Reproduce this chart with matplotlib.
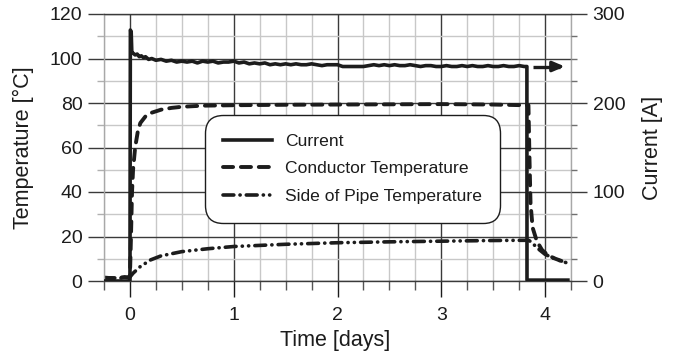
import matplotlib
matplotlib.use("Agg")
import matplotlib.pyplot as plt
from matplotlib.ticker import MultipleLocator
import numpy as np

plt.rcParams['font.family'] = ['Liberation Sans', 'DejaVu Sans']

# ---------------- data ----------------
# Current [A] (right axis)
cur_t = [-0.25, -0.005, 0.0, 0.004, 0.012, 0.018, 0.03, 0.05, 0.07, 0.09, 0.11, 0.13, 0.15,
         0.18, 0.21, 0.25, 0.3, 0.35, 0.4, 0.45, 0.5, 0.55, 0.6, 0.65, 0.7, 0.75, 0.8,
         0.85, 0.9, 0.95, 1.0, 1.05, 1.1, 1.15, 1.2, 1.25, 1.3, 1.35, 1.4, 1.45, 1.5,
         1.55, 1.6, 1.65, 1.7, 1.75, 1.8, 1.85, 1.9, 1.95, 2.0, 2.05, 2.1, 2.15, 2.2,
         2.25, 2.3, 2.35, 2.4, 2.45, 2.5, 2.55, 2.6, 2.65, 2.7, 2.75, 2.8, 2.85, 2.9,
         2.95, 3.0, 3.05, 3.1, 3.15, 3.2, 3.25, 3.3, 3.35, 3.4, 3.45, 3.5, 3.55, 3.6,
         3.65, 3.7, 3.75, 3.8, 3.825, 3.826, 4.22]
cur_a = [0, 0, 0, 282, 280, 257, 256, 254, 255, 252, 253, 251, 252,
         249, 250, 248, 249, 247, 248, 246, 247, 246, 247, 245, 247, 246, 247,
         245, 246, 246, 247, 245, 246, 244, 245, 244, 245, 243, 244, 243, 244,
         243, 244, 243, 243, 244, 243, 242, 243, 243, 243, 241, 241, 241, 241,
         241, 242, 243, 242, 243, 242, 243, 242, 242, 243, 242, 241, 242, 242,
         241, 241, 242, 241, 241, 242, 241, 242, 241, 241, 242, 241, 241, 242,
         241, 241, 242, 241, 241, 1, 1]

# Conductor temperature [°C]
cond_t = [-0.25, -0.15, -0.05, -0.01, 0.0, 0.01, 0.02, 0.03, 0.05, 0.075, 0.1, 0.15, 0.2,
          0.3, 0.4, 0.5, 0.7, 1.0, 1.5, 2.0, 2.5, 3.0, 3.5, 3.8, 3.84, 3.85, 3.86,
          3.88, 3.92, 3.97, 4.03, 4.1, 4.17, 4.22]
cond_c = [1.5, 1.2, 1.8, 1.5, 2.0, 20, 40, 50, 60, 67, 71, 74, 75.5,
          77, 77.8, 78.3, 78.8, 79.0, 79.2, 79.3, 79.4, 79.5, 79.3, 79.0, 79.0, 55, 35,
          24, 18, 14, 11.5, 10, 8.8, 8.0]

# Side of pipe temperature [°C]
pipe_t = [-0.25, -0.1, 0.0, 0.03, 0.1, 0.2, 0.3, 0.5, 0.75, 1.0, 1.5, 2.0, 2.5, 3.0,
          3.5, 3.84, 3.87, 3.92, 4.0, 4.1, 4.2]
pipe_c = [1.5, 1.3, 1.8, 3.5, 6.5, 9.5, 11.3, 13.2, 14.5, 15.5, 16.5, 17.2, 17.6, 17.9,
          18.2, 18.3, 17.5, 15.0, 12.0, 9.8, 8.3]

# arrow pointing to the current axis
arrow_t = [3.88, 4.19]
arrow_a = [241, 241]

labels = ["Current", "Conductor Temperature", "Side of Pipe Temperature"]
x_ticks = [0, 1, 2, 3, 4]
t_ticks = [0, 20, 40, 60, 80, 100, 120]
a_ticks = [0, 100, 200, 300]

# ---------------- figure ----------------
W, H = 676, 356
fig = plt.figure(figsize=(W / 100, H / 100), dpi=100)
L, R, T, B = 104, 571, 14, 281
ax = fig.add_axes([L / W, 1 - B / H, (R - L) / W, (B - T) / H])
ax2 = ax.twinx()

ink = '#1c1c1c'
major_c = '#3a3a3a'
minor_c = '#c8c8c8'

ax.set_xlim(-0.25, 4.25)
ax.set_ylim(0, 120)
ax2.set_ylim(0, 300)

ax.set_xticks(x_ticks)
ax.xaxis.set_minor_locator(MultipleLocator(0.25))
ax.set_yticks(t_ticks)
ax.yaxis.set_minor_locator(MultipleLocator(10))
ax2.set_yticks(a_ticks)
ax2.yaxis.set_minor_locator(MultipleLocator(25))

ax.set_axisbelow(True)
ax.grid(which='major', color=major_c, lw=1.0)
ax.grid(which='minor', color=minor_c, lw=1.0)

for s in ['top', 'bottom']:
    ax.spines[s].set_color(major_c)
    ax.spines[s].set_linewidth(1.0)
for s in ['left', 'right']:
    ax.spines[s].set_color('#a8a8a8')
    ax.spines[s].set_linewidth(1.0)
for s in ax2.spines.values():
    s.set_visible(False)

tick_fs = 14
ax.tick_params(axis='x', which='major', length=11.5, width=1, color=ink,
               labelsize=tick_fs, pad=7, labelcolor=ink)
ax.tick_params(axis='x', which='minor', length=6.5, width=1, color='#555555')
ax.tick_params(axis='y', which='major', length=11.5, width=1, color=major_c,
               labelsize=tick_fs, pad=4, labelcolor=ink)
ax.tick_params(axis='y', which='minor', length=5, width=1, color='#b0b0b0')
ax2.tick_params(axis='y', which='major', length=11.5, width=1, color=major_c,
                labelsize=tick_fs, pad=4, labelcolor=ink)
ax2.tick_params(axis='y', which='minor', length=4.5, width=1, color='#707070')

lab_fs = 15.5
ax.set_xlabel("Time [days]", fontsize=lab_fs, color=ink)
ax.xaxis.set_label_coords((335 - L) / (R - L), (B - 330) / (B - T))
ax.set_ylabel("Temperature [°C]", fontsize=lab_fs, color=ink)
ax.yaxis.set_label_coords((34 - L) / (R - L), 0.5)
ax2.set_ylabel("Current [A]", fontsize=lab_fs, color=ink, rotation=90)
ax2.yaxis.set_label_coords((642 - L) / (R - L), 0.5)

# ---------------- lines ----------------
h_cond, = ax.plot(cond_t, cond_c, color=ink, lw=2.8, linestyle=(0, (2.6, 2.0)),
                  dash_capstyle='round', solid_capstyle='round', label=labels[1])
h_pipe, = ax.plot(pipe_t, pipe_c, color=ink, lw=2.6,
                  linestyle=(0, (3.0, 1.7, 0.05, 1.7, 3.0, 1.7, 0.05, 1.7, 0.05, 1.7)),
                  dash_capstyle='round', label=labels[2])
h_cur, = ax2.plot(cur_t, cur_a, color=ink, lw=2.6, solid_joinstyle='round', label=labels[0])

ax2.plot(arrow_t[:1] + [arrow_t[1] - 0.05], arrow_a, color=ink, lw=2.4,
         linestyle=(0, (5, 1.8)))
ax2.annotate('', xy=(arrow_t[1], arrow_a[1]), xytext=(arrow_t[1] - 0.1, arrow_a[0]),
             arrowprops=dict(arrowstyle='-|>,head_length=0.7,head_width=0.3',
                             color=ink, lw=2.4, shrinkA=0, shrinkB=0))

# ---------------- legend ----------------
leg = ax2.legend([h_cur, h_cond, h_pipe], labels, loc='upper left',
                 bbox_to_anchor=((205 - L) / (R - L), (B - 115) / (B - T)),
                 fontsize=12.6, frameon=True, fancybox=True, framealpha=1,
                 edgecolor=ink, handlelength=2.8, handletextpad=0.7,
                 labelspacing=0.72, borderpad=1.05, borderaxespad=0)
leg.get_frame().set_linewidth(1.0)
leg.get_frame().set_boxstyle('round,pad=0,rounding_size=1.0')
for txt in leg.get_texts():
    txt.set_color(ink)
leg.set_zorder(10)

fig.savefig("out.png", dpi=100)
